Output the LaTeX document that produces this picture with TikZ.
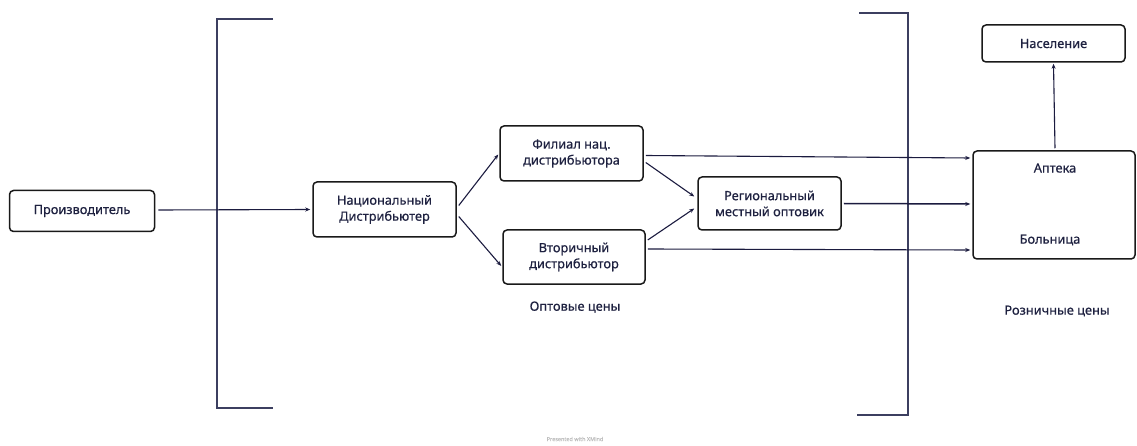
\documentclass[tikz,border=0pt]{standalone}
\usepackage{fontspec}
\setmainfont{Noto Sans}[FakeBold=0.6]
\usetikzlibrary{arrows.meta,calc}
\definecolor{navy}{HTML}{1B1B3F}
\definecolor{brk}{HTML}{3C3F60}
\definecolor{txt}{HTML}{1E2140}
\begin{document}
\begin{tikzpicture}[x=1pt,y=-1pt,
  box/.style={draw=black!90,line width=1.5pt,rounded corners=4pt,align=center,
    font=\fontsize{12.8}{16}\selectfont,text=txt,inner sep=0pt},
  lbl/.style={font=\fontsize{12.8}{16}\selectfont,text=txt,inner sep=0pt},
  conn/.style={draw=navy,line width=1.1pt,-{Stealth[length=5pt,width=4pt]}},
  bracket/.style={draw=brk,line width=1.3pt}]
\useasboundingbox (0,0) rectangle (1137,446);
% brackets
\draw[bracket] (273,19) -- (217,19) -- (217,408) -- (273,408);
\draw[bracket] (859,13) -- (908,13) -- (908,415) -- (857,415);
% nodes
\node[box,minimum width=145pt,minimum height=41pt] (prod) at (82,211) {Производитель};
\node[box,minimum width=143pt,minimum height=55pt] (nat) at (384.5,209.5) {Национальный\\Дистрибьютер};
\node[box,minimum width=143pt,minimum height=55pt] (fil) at (571.5,153.5) {Филиал нац.\\дистрибьютора};
\node[box,minimum width=142pt,minimum height=54pt] (vtor) at (574,257) {Вторичный\\дистрибьютор};
\node[box,minimum width=143pt,minimum height=53pt] (reg) at (769.5,203.5) {Региональный\\местный оптовик};
\node[box,minimum width=162pt,minimum height=108pt] (ret) at (1054,205) {};
\node[lbl] (apt) at (1055,168) {Аптека};
\node[lbl] (bol) at (1050,240) {Больница};
\node[box,minimum width=143pt,minimum height=37pt] (nas) at (1053.5,43.5) {Население};
\node[lbl] (opt) at (575,307) {Оптовые цены};
\node[lbl] (roz) at (1057,311) {Розничные цены};
\node[font=\fontsize{5.5}{7}\selectfont,text=black!25] (xm) at (575,439) {Presented with XMind};
% connectors
\draw[conn] ($(prod.east)+(3,-1)$) -- ($(nat.west)+(-2,0)$);
\draw[conn] ($(nat.east)+(2,-4)$) -- ($(fil.west)+(-1,1)$);
\draw[conn] ($(nat.east)+(2,7)$) -- ($(vtor.west)+(-1,9)$);
\draw[conn] ($(fil.east)+(2,9)$) -- ($(reg.west)+(-3,-7)$);
\draw[conn] ($(vtor.east)+(2,-17)$) -- ($(reg.west)+(-3,5)$);
\draw[conn] ($(fil.east)+(2,2)$) -- ($(ret.west)+(-2,-47)$);
\draw[conn,line width=1.5pt] ($(reg.east)+(2,0)$) -- ($(ret.west)+(-2,-1)$);
\draw[conn] ($(vtor.east)+(2,-8)$) -- ($(ret.west)+(-2,45)$);
\draw[conn] ($(ret.north)+(1,-2)$) -- ($(nas.south)+(0,1)$);
\end{tikzpicture}
\end{document}
